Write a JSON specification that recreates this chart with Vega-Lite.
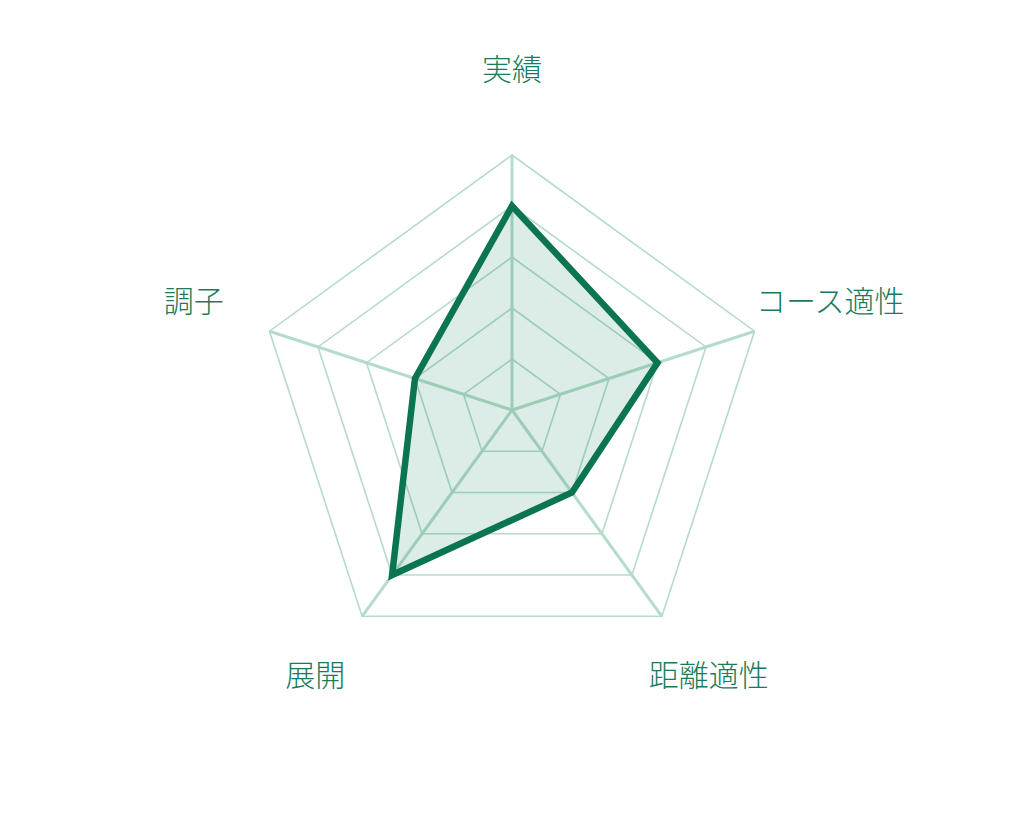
{
  "$schema": "https://vega.github.io/schema/vega-lite/v6.json",
  "width": 1024,
  "height": 820,
  "autosize": {"type": "fit", "contains": "padding"},
  "padding": 0,
  "background": "white",
  "config": {"view": {"stroke": null}},
  "datasets": {
    "scores": [
      {"axis": "実績", "i": 0, "value": 4},
      {"axis": "コース適性", "i": 1, "value": 3},
      {"axis": "距離適性", "i": 2, "value": 2},
      {"axis": "展開", "i": 3, "value": 4},
      {"axis": "調子", "i": 4, "value": 2}
    ],
    "grid": [
      {"level": 1, "i": 0}, {"level": 1, "i": 1}, {"level": 1, "i": 2}, {"level": 1, "i": 3}, {"level": 1, "i": 4},
      {"level": 2, "i": 0}, {"level": 2, "i": 1}, {"level": 2, "i": 2}, {"level": 2, "i": 3}, {"level": 2, "i": 4},
      {"level": 3, "i": 0}, {"level": 3, "i": 1}, {"level": 3, "i": 2}, {"level": 3, "i": 3}, {"level": 3, "i": 4},
      {"level": 4, "i": 0}, {"level": 4, "i": 1}, {"level": 4, "i": 2}, {"level": 4, "i": 3}, {"level": 4, "i": 4},
      {"level": 5, "i": 0}, {"level": 5, "i": 1}, {"level": 5, "i": 2}, {"level": 5, "i": 3}, {"level": 5, "i": 4}
    ]
  },
  "layer": [
    {
      "data": {"name": "grid"},
      "transform": [
        {"calculate": "datum.i * 2 * PI / 5", "as": "ang"},
        {"calculate": "datum.level * sin(datum.ang)", "as": "px"},
        {"calculate": "datum.level * cos(datum.ang)", "as": "py"}
      ],
      "mark": {"type": "line", "interpolate": "linear-closed", "stroke": "#b5dbcb", "strokeWidth": 1.6},
      "encoding": {
        "x": {"field": "px", "type": "quantitative", "scale": {"domain": [-10.039, 10.039], "nice": false, "zero": false}, "axis": null},
        "y": {"field": "py", "type": "quantitative", "scale": {"domain": [-8.039, 8.039], "nice": false, "zero": false}, "axis": null},
        "detail": {"field": "level", "type": "nominal"},
        "order": {"field": "i", "type": "quantitative"}
      }
    },
    {
      "data": {"name": "scores"},
      "transform": [
        {"calculate": "datum.i * 2 * PI / 5", "as": "ang"},
        {"calculate": "5 * sin(datum.ang)", "as": "ox"},
        {"calculate": "5 * cos(datum.ang)", "as": "oy"}
      ],
      "mark": {"type": "rule", "stroke": "#b5dbcb", "strokeWidth": 3},
      "encoding": {
        "x": {"field": "ox", "type": "quantitative", "scale": {"domain": [-10.039, 10.039], "nice": false, "zero": false}, "axis": null},
        "y": {"field": "oy", "type": "quantitative", "scale": {"domain": [-8.039, 8.039], "nice": false, "zero": false}, "axis": null},
        "x2": {"datum": 0},
        "y2": {"datum": 0}
      }
    },
    {
      "data": {"name": "scores"},
      "transform": [
        {"calculate": "datum.i * 2 * PI / 5", "as": "ang"},
        {"calculate": "datum.value * sin(datum.ang)", "as": "px"},
        {"calculate": "datum.value * cos(datum.ang)", "as": "py"}
      ],
      "mark": {"type": "line", "interpolate": "linear-closed", "fill": "#0a7550", "fillOpacity": 0.14, "stroke": "#0a7550", "strokeWidth": 6.5, "strokeJoin": "miter"},
      "encoding": {
        "x": {"field": "px", "type": "quantitative", "scale": {"domain": [-10.039, 10.039], "nice": false, "zero": false}, "axis": null},
        "y": {"field": "py", "type": "quantitative", "scale": {"domain": [-8.039, 8.039], "nice": false, "zero": false}, "axis": null},
        "order": {"field": "i", "type": "quantitative"}
      }
    },
    {
      "data": {"name": "scores"},
      "transform": [
        {"calculate": "datum.i * 2 * PI / 5", "as": "ang"},
        {"calculate": "6.56 * sin(datum.ang)", "as": "lx"},
        {"calculate": "6.56 * cos(datum.ang)", "as": "ly"}
      ],
      "mark": {"type": "text", "align": "center", "baseline": "middle", "dy": -4, "font": "Noto Sans CJK JP", "fontSize": 30, "fontWeight": 300, "fill": "#1a7a59"},
      "encoding": {
        "x": {"field": "lx", "type": "quantitative", "scale": {"domain": [-10.039, 10.039], "nice": false, "zero": false}, "axis": null},
        "y": {"field": "ly", "type": "quantitative", "scale": {"domain": [-8.039, 8.039], "nice": false, "zero": false}, "axis": null},
        "text": {"field": "axis", "type": "nominal"}
      }
    }
  ]
}
